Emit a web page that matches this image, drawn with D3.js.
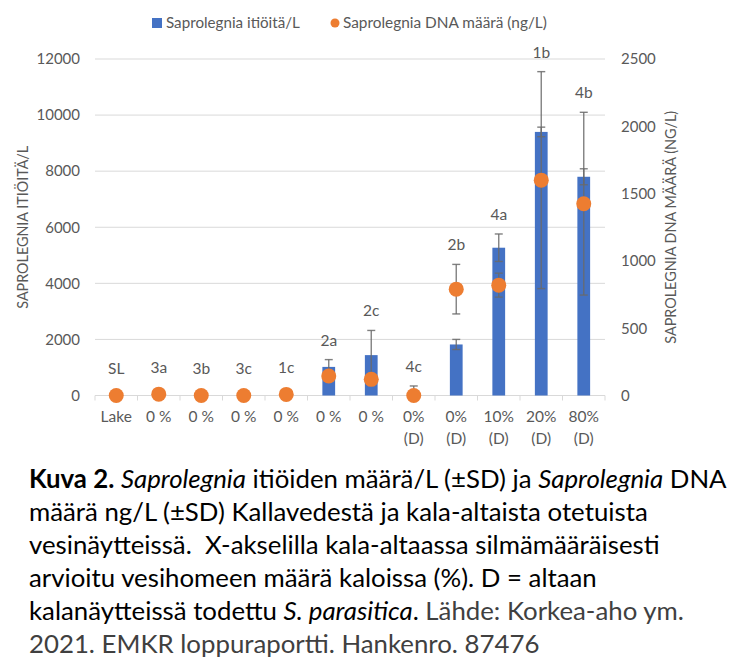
<!DOCTYPE html>
<html>
<head>
<meta charset="utf-8">
<script src="https://cdn.jsdelivr.net/npm/d3@7"></script>
<style>
  body { margin: 0; background: #fff; }
  svg text { font-family: Lato, Carlito, "Open Sans", sans-serif; }
</style>
</head>
<body>
<div id="chart"></div>
<script>
// Values
const categories = ['Lake', '0 %', '0 %', '0 %', '0 %', '0 %', '0 %', '0%\n(D)', '0%\n(D)', '10%\n(D)', '20%\n(D)', '80%\n(D)'];
const letters = ['SL', '3a', '3b', '3c', '1c', '2a', '2c', '4c', '2b', '4a', '1b', '4b'];
const spores = [0, 0, 0, 0, 0, 1020, 1440, 0, 1820, 5270, 9400, 7800];
const sporesSD = [0, 0, 0, 0, 0, 260, 880, 340, 180, 490, 170, 285];
const dna = [0, 10, 0, 0, 8, 145, 120, 0, 790, 820, 1600, 1425];
const dnaSD = [0, 0, 0, 0, 0, 0, 0, 0, 184, 89, 806, 679];
const leftTicks = [0, 2000, 4000, 6000, 8000, 10000, 12000];
const rightTicks = [0, 500, 1000, 1500, 2000, 2500];

const W = 741, H = 657;
const plot = { left: 95, right: 605, top: 59, bottom: 395.5 };
const grey = '#595959';

const svg = d3.select('#chart').append('svg')
  .attr('width', W)
  .attr('height', H);

svg.append('rect').attr('width', W).attr('height', H).attr('fill', '#fff');

// scale a text's font so it spans the width seen in the picture
function fitWidth(sel, target) {
  const fs = +sel.attr('font-size');
  const w = sel.node().getComputedTextLength();
  sel.attr('font-size', fs * target / w);
}

// scales
const x = d3.scaleBand()
  .domain(d3.range(categories.length))
  .range([plot.left, plot.right])
  .padding(0);
const yL = d3.scaleLinear().domain([0, 12000]).range([plot.bottom, plot.top]);
const yR = d3.scaleLinear().domain([0, 2500]).range([plot.bottom, plot.top]);
const cx = i => x(i) + x.bandwidth() / 2;
const barW = x.bandwidth() * 0.3;

// gridlines
svg.append('g')
  .selectAll('line')
  .data(leftTicks.slice(1))
  .join('line')
  .attr('x1', plot.left).attr('x2', plot.right)
  .attr('y1', d => yL(d)).attr('y2', d => yL(d))
  .attr('stroke', '#d9d9d9').attr('stroke-width', 1);

// left axis labels
const leftAxis = svg.append('g')
  .attr('transform', `translate(${plot.left - 15},0)`)
  .call(d3.axisLeft(yL).tickValues(leftTicks).tickFormat(d3.format('d')).tickSize(0).tickPadding(0));
leftAxis.select('.domain').remove();
leftAxis.selectAll('text').attr('fill', grey).attr('font-size', 15).attr('font-family', null);

// right axis labels
const rightAxis = svg.append('g')
  .attr('transform', `translate(${plot.right + 16},0)`)
  .call(d3.axisRight(yR).tickValues(rightTicks).tickFormat(d3.format('d')).tickSize(0).tickPadding(0));
rightAxis.select('.domain').remove();
rightAxis.selectAll('text').attr('fill', grey).attr('font-size', 15).attr('font-family', null);

// x axis line and ticks at category edges
svg.append('line')
  .attr('x1', plot.left).attr('x2', plot.right)
  .attr('y1', plot.bottom).attr('y2', plot.bottom)
  .attr('stroke', '#d9d9d9');
svg.append('g')
  .selectAll('line')
  .data(d3.range(categories.length + 1))
  .join('line')
  .attr('x1', i => plot.left + i * x.step()).attr('x2', i => plot.left + i * x.step())
  .attr('y1', plot.bottom).attr('y2', plot.bottom + 5)
  .attr('stroke', '#d9d9d9');

// x labels (can be two lines)
const xl = svg.append('g')
  .selectAll('text')
  .data(categories)
  .join('text')
  .attr('text-anchor', 'middle')
  .attr('fill', grey)
  .attr('font-size', 15.5);
xl.each(function(d, i) {
  d3.select(this).selectAll('tspan')
    .data(d.split('\n'))
    .join('tspan')
    .attr('x', cx(i))
    .attr('y', (t, j) => 422 + j * 21.5)
    .text(t => t);
});

// axis titles
const tl = svg.append('text')
  .attr('transform', `translate(28,${(plot.top + plot.bottom) / 2}) rotate(-90)`)
  .attr('text-anchor', 'middle')
  .attr('fill', grey).attr('font-size', 13)
  .text('SAPROLEGNIA ITIÖITÄ/L');
fitWidth(tl, 163);
const tr = svg.append('text')
  .attr('transform', `translate(676,${(plot.top + plot.bottom) / 2}) rotate(-90)`)
  .attr('text-anchor', 'middle')
  .attr('fill', grey).attr('font-size', 13)
  .text('SAPROLEGNIA DNA MÄÄRÄ (NG/L)');
fitWidth(tr, 233);

// bars
svg.append('g')
  .selectAll('rect')
  .data(spores)
  .join('rect')
  .attr('x', (d, i) => cx(i) - barW / 2)
  .attr('y', d => yL(d))
  .attr('width', barW)
  .attr('height', d => plot.bottom - yL(d))
  .attr('fill', '#4472c4');

// error bars, clipped to the plot range like the original
function errorBars(vals, sds, scale, maxV) {
  const g = svg.append('g').attr('stroke', '#6a6a6a').attr('stroke-width', 1.4).attr('stroke-opacity', 0.85);
  vals.forEach((v, i) => {
    if (!sds[i]) return;
    const hi = v + sds[i], lo = v - sds[i];
    const yHi = scale(Math.min(hi, maxV)), yLo = scale(Math.max(lo, 0));
    g.append('line').attr('x1', cx(i)).attr('x2', cx(i)).attr('y1', yHi).attr('y2', yLo);
    if (hi <= maxV) g.append('line').attr('x1', cx(i) - 4).attr('x2', cx(i) + 4).attr('y1', scale(hi)).attr('y2', scale(hi));
    if (lo >= 0) g.append('line').attr('x1', cx(i) - 4).attr('x2', cx(i) + 4).attr('y1', scale(lo)).attr('y2', scale(lo));
  });
}
errorBars(spores, sporesSD, yL, 12000);
errorBars(dna, dnaSD, yR, 2500);

// dots
svg.append('g')
  .selectAll('circle')
  .data(dna)
  .join('circle')
  .attr('cx', (d, i) => cx(i))
  .attr('cy', d => yR(d))
  .attr('r', 7.5)
  .attr('fill', '#ed7d31');

// letter labels above the highest mark of each category
svg.append('g')
  .selectAll('text')
  .data(letters)
  .join('text')
  .attr('x', (d, i) => cx(i))
  .attr('y', (d, i) => {
    const top = Math.min(
      yL(spores[i] + sporesSD[i]),
      yR(dna[i] + dnaSD[i]),
      yR(dna[i]) - 7.5
    );
    return top - 14;
  })
  .attr('text-anchor', 'middle')
  .attr('fill', grey)
  .attr('font-size', 15.5)
  .text(d => d);

// legend
const lg = svg.append('g');
lg.append('rect').attr('x', 152).attr('y', 18).attr('width', 10).attr('height', 10).attr('fill', '#4472c4');
const lt1 = lg.append('text').attr('x', 166).attr('y', 28).attr('fill', grey).attr('font-size', 15).text('Saprolegnia itiöitä/L');
fitWidth(lt1, 134);
lg.append('circle').attr('cx', 335).attr('cy', 23).attr('r', 4.5).attr('fill', '#ed7d31');
const lt2 = lg.append('text').attr('x', 343).attr('y', 28).attr('fill', grey).attr('font-size', 15).text('Saprolegnia DNA määrä (ng/L)');
fitWidth(lt2, 204);

// caption
const captionLines = [
  [['Kuva 2.', 'b'], [' ', ''], ['Saprolegnia', 'i'], [' itiöiden määrä/L (±SD) ja ', ''], ['Saprolegnia', 'i'], [' DNA', '']],
  [['määrä ng/L (±SD) Kallavedestä ja kala-altaista otetuista', '']],
  [['vesinäytteissä.  X-akselilla kala-altaassa silmämääräisesti', '']],
  [['arvioitu vesihomeen määrä kaloissa (%). D = altaan', '']],
  [['kalanäytteissä todettu ', ''], ['S. parasitica', 'i'], ['. ', ''], ['Lähde: Korkea-aho ym.', 's']],
  [['2021. EMKR loppuraportti. Hankenro. 87476', 's']]
];
const cap = svg.append('g').attr('font-size', 21);
const capTexts = captionLines.map((parts, li) => {
  const t = cap.append('text')
    .attr('x', 29)
    .attr('y', 488 + li * 33)
    .attr('fill', '#000')
    .attr('xml:space', 'preserve')
    .style('white-space', 'pre');
  parts.forEach(([s, f]) => {
    t.append('tspan')
      .attr('font-weight', f === 'b' ? 'bold' : null)
      .attr('font-style', f === 'i' ? 'italic' : null)
      .attr('fill', f === 's' ? '#404040' : null)
      .text(s);
  });
  return t;
});
// fit the first line to its width in the picture
const w0 = capTexts[0].node().getComputedTextLength();
cap.attr('font-size', 21 * 698 / w0);
</script>
</body>
</html>
